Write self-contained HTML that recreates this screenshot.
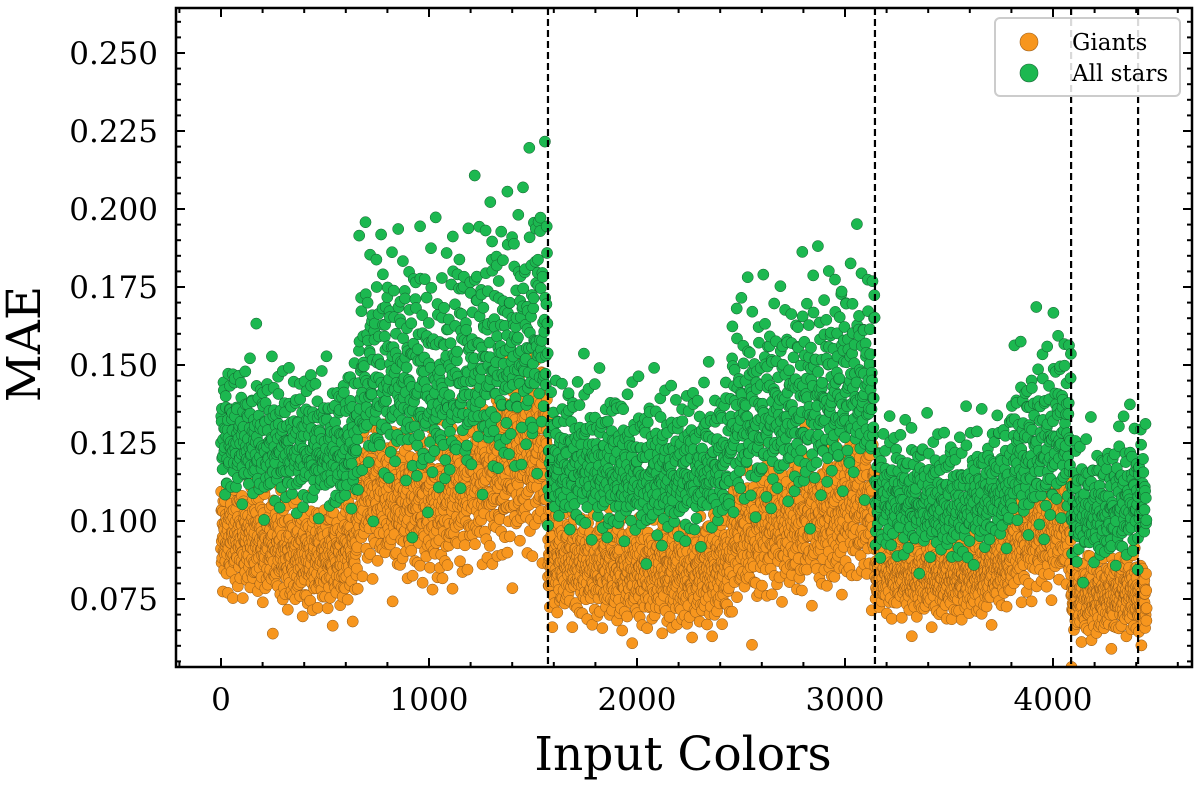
<!DOCTYPE html>
<html><head><meta charset="utf-8"><style>
body{margin:0;background:#fff}
svg{display:block;font-family:"DejaVu Serif","Liberation Serif",serif}
</style></head><body>
<svg id="chart" width="1200" height="785">
<g id="points"></g>
<g id="vlines"></g>
<g id="axes"></g>
<text x="683" y="770" font-size="47" text-anchor="middle">Input Colors</text>
<text transform="translate(40,344) rotate(-90)" font-size="47" text-anchor="middle">MAE</text>
<g>
<rect x="995" y="18" width="185" height="78" rx="5" fill="#fff" fill-opacity="0.85" stroke="#ccc" stroke-width="2"/>
<g><circle cx="1029" cy="42" r="9" fill="#f7961e" stroke="#a0601a" stroke-width="0.6"/><text x="1072" y="50" font-size="23">Giants</text></g>
<g><circle cx="1029" cy="73" r="9" fill="#1cb850" stroke="#1a6a38" stroke-width="0.6"/><text x="1072" y="81" font-size="23">All stars</text></g>
</g>
</svg>
<script>
// segment bins: start x, green mean, green sd, orange mean, orange sd
const binStart = [0,100,200,300,400,500,600,660,800,900,1000,1100,1200,1300,1400,1500,1572,1700,1800,1900,2000,2100,2200,2300,2400,2450,2600,2700,2800,2900,3000,3144,3300,3400,3500,3600,3700,3800,3900,4000,4087,4200,4300,4409];
const greenMean = [.126,.125,.124,.123,.123,.122,.125,.145,.146,.143,.142,.146,.150,.151,.155,.160,.118,.118,.116,.115,.115,.115,.115,.117,.119,.132,.134,.135,.137,.140,.142,.107,.106,.105,.105,.107,.110,.121,.123,.128,.103,.103,.106,.108];
const greenSd = [.012,.012,.012,.012,.012,.012,.013,.021,.021,.021,.021,.022,.023,.023,.023,.024,.013,.013,.013,.013,.013,.013,.013,.013,.013,.018,.018,.018,.019,.019,.019,.011,.011,.011,.011,.011,.011,.015,.016,.017,.011,.011,.012,.012];
const orangeMean = [.095,.094,.092,.089,.089,.089,.092,.109,.107,.106,.107,.111,.114,.116,.119,.123,.087,.086,.085,.084,.084,.084,.083,.084,.086,.096,.099,.099,.101,.102,.105,.084,.082,.082,.082,.083,.086,.094,.096,.099,.076,.076,.077,.075];
const orangeSd = [.008,.008,.008,.008,.008,.008,.008,.011,.011,.011,.012,.012,.012,.013,.013,.014,.008,.008,.008,.008,.008,.008,.008,.008,.008,.010,.010,.010,.010,.011,.011,.006,.006,.006,.006,.006,.006,.008,.008,.009,.006,.006,.006,.006];
const xEnd = 4450;
const dividers = [1572,3144,4087,4409];
const xTicks = [0,1000,2000,3000,4000];
const yTicks = [0.075,0.100,0.125,0.150,0.175,0.200,0.225,0.250];

const L=176,R=1192,T=8,B=667;
const xs=v=>221+v*0.208;
const ys=v=>599-(v-0.075)/0.025*78;
const NS="http://www.w3.org/2000/svg";
function mk(tag,attrs,parent){const e=document.createElementNS(NS,tag);for(const k in attrs)e.setAttribute(k,attrs[k]);parent.appendChild(e);return e;}
function halton(i,b){let f=1,r=0;while(i>0){f/=b;r+=f*(i%b);i=Math.floor(i/b);}return r;}
function qnorm(i,b1,b2){const u=Math.max(1e-4,halton(i,b1)),v=halton(i,b2);let z=Math.sqrt(-2*Math.log(u))*Math.cos(2*Math.PI*v);return Math.max(-3.8,Math.min(3.8,z));}
function binOf(x){let k=0;for(let j=0;j<binStart.length;j++)if(x>=binStart[j])k=j;return k;}

const pts=document.getElementById('points');
const defsClip=mk('clipPath',{id:'clip'},mk('defs',{},document.getElementById('chart')));
mk('rect',{x:L,y:T,width:R-L,height:B-T},defsClip);
pts.setAttribute('clip-path','url(#clip)');
const og=mk('g',{},pts);


const gg=mk('g',{},pts);


for(let x=0;x<=xEnd;x++){
  const k=binOf(x);
  const vo=orangeMean[k]+orangeSd[k]*qnorm(x+7,2,3);
  const c=mk('circle',{cx:xs(x).toFixed(1),cy:ys(vo).toFixed(1),r:5.6,fill:'#f7961e',stroke:'#8a5418','stroke-width':0.5},og);
  
  
}
let n=0;
for(let x=0;x<=xEnd;x+=1.5){
  n++;
  const k=binOf(x);
  let z=qnorm(n+11,5,7); if(z<0) z*=0.7;
  const vg=greenMean[k]+greenSd[k]*z;
  const c=mk('circle',{cx:xs(x).toFixed(1),cy:ys(vg).toFixed(1),r:5.6,fill:'#1cb850',stroke:'#155c2e','stroke-width':0.5},gg);
  
  
}
const vl=document.getElementById('vlines');
dividers.forEach(d=>{
  const l=mk('line',{x1:xs(d),x2:xs(d),y1:T,y2:B,stroke:'#000','stroke-width':2.2,'stroke-dasharray':'7,4'},vl);
  
  
});
const ax=document.getElementById('axes');
for(let v=-200;v<=4600;v+=200){
  const x=xs(v);if(x<L||x>R)continue;
  const len=(v%1000===0)?9:5;
  mk('line',{x1:x,x2:x,y1:B,y2:B-len,stroke:'#000','stroke-width':2},ax);
  mk('line',{x1:x,x2:x,y1:T,y2:T+len,stroke:'#000','stroke-width':2},ax);
}
for(let i=0;i<60;i++){
  const v=0.050+i*0.005;const y=ys(v);if(y<T||y>B)continue;
  const len=(i%5===0)?9:5;
  mk('line',{x1:L,x2:L+len,y1:y,y2:y,stroke:'#000','stroke-width':2},ax);
  mk('line',{x1:R,x2:R-len,y1:y,y2:y,stroke:'#000','stroke-width':2},ax);
}
xTicks.forEach(v=>{
  const t=mk('text',{x:xs(v),y:710,'font-size':31,'text-anchor':'middle'},ax);t.textContent=v;
  
  
});
yTicks.forEach(v=>{
  const t=mk('text',{x:158,y:ys(v)+11,'font-size':31,'text-anchor':'end'},ax);t.textContent=v.toFixed(3);
  
  
});
const fr=mk('rect',{x:L,y:T,width:R-L,height:B-T,fill:'none',stroke:'#000','stroke-width':2.5},ax);


</script>
</body></html>
